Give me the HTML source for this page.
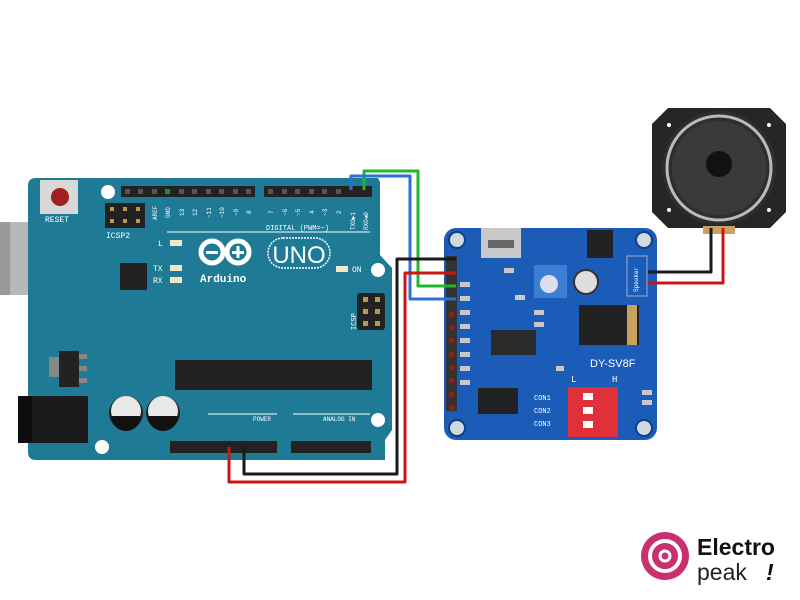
<!DOCTYPE html>
<html><head><meta charset="utf-8"><style>html,body{margin:0;padding:0;background:#fff}svg{display:block}</style></head>
<body>
<svg width="800" height="600" viewBox="0 0 800 600" xmlns="http://www.w3.org/2000/svg" font-family="Liberation Mono, monospace">
<rect width="800" height="600" fill="#fff"/>
<!-- USB -->
<rect x="0" y="222" width="78" height="73" fill="#b8b8b8"/>
<rect x="0" y="222" width="10" height="73" fill="#9a9a9a"/>
<rect x="28" y="218" width="8" height="82" fill="#a5a5a5"/>
<!-- Arduino board -->
<path d="M36 178 H378 L380 182 V255 L392 268 V430 L385 440 V460 H36 Q28 460 28 452 V186 Q28 178 36 178Z" fill="#1f7a96"/>
<rect x="18" y="396" width="70" height="47" fill="#1a1a1a"/>
<rect x="18" y="396" width="14" height="47" fill="#0d0d0d"/>
<!-- reset -->
<rect x="40" y="180" width="38" height="34" fill="#d8d8d8"/>
<circle cx="60" cy="197" r="9" fill="#a21f1f"/>
<text x="45" y="222" font-size="8" fill="#fff">RESET</text>
<!-- holes -->
<circle cx="108" cy="192" r="7" fill="#fff"/>
<circle cx="378" cy="270" r="7" fill="#fff"/>
<circle cx="378" cy="420" r="7" fill="#fff"/>
<circle cx="102" cy="447" r="7" fill="#fff"/>
<!-- ICSP2 -->
<rect x="105" y="203" width="40" height="25" fill="#222"/>
<g fill="#b89a4a"><rect x="110" y="207" width="4" height="4"/><rect x="123" y="207" width="4" height="4"/><rect x="136" y="207" width="4" height="4"/><rect x="110" y="219" width="4" height="4"/><rect x="123" y="219" width="4" height="4"/><rect x="136" y="219" width="4" height="4"/></g>
<text x="106" y="238" font-size="8" fill="#fff">ICSP2</text>
<!-- top headers -->
<rect x="121" y="186" width="134" height="11" fill="#222"/>
<rect x="264" y="186" width="108" height="11" fill="#222"/>
<g fill="#555">
<rect x="125" y="189" width="5" height="5"/><rect x="138" y="189" width="5" height="5"/><rect x="152" y="189" width="5" height="5"/><rect x="179" y="189" width="5" height="5"/><rect x="192" y="189" width="5" height="5"/><rect x="206" y="189" width="5" height="5"/><rect x="219" y="189" width="5" height="5"/><rect x="233" y="189" width="5" height="5"/><rect x="246" y="189" width="5" height="5"/>
<rect x="268" y="189" width="5" height="5"/><rect x="282" y="189" width="5" height="5"/><rect x="295" y="189" width="5" height="5"/><rect x="309" y="189" width="5" height="5"/><rect x="322" y="189" width="5" height="5"/><rect x="336" y="189" width="5" height="5"/></g>
<rect x="165" y="189" width="5" height="5" fill="#2a8a2a"/>
<g font-size="6" fill="#fff">
<text x="157" y="220" transform="rotate(-90 157 220)">AREF</text>
<text x="170" y="218" transform="rotate(-90 170 218)">GND</text>
<text x="184" y="216" transform="rotate(-90 184 216)">13</text>
<text x="197" y="216" transform="rotate(-90 197 216)">12</text>
<text x="211" y="218" transform="rotate(-90 211 218)">~11</text>
<text x="224" y="218" transform="rotate(-90 224 218)">~10</text>
<text x="238" y="216" transform="rotate(-90 238 216)">~9</text>
<text x="251" y="214" transform="rotate(-90 251 214)">8</text>
<text x="273" y="214" transform="rotate(-90 273 214)">7</text>
<text x="287" y="216" transform="rotate(-90 287 216)">~6</text>
<text x="300" y="216" transform="rotate(-90 300 216)">~5</text>
<text x="314" y="214" transform="rotate(-90 314 214)">4</text>
<text x="327" y="216" transform="rotate(-90 327 216)">~3</text>
<text x="341" y="214" transform="rotate(-90 341 214)">2</text>
<text x="355" y="230" transform="rotate(-90 355 230)">TXO▶1</text>
<text x="368" y="230" transform="rotate(-90 368 230)">RXO◀0</text>
<text x="266" y="230" font-size="7">DIGITAL (PWM=~)</text>
<text x="158" y="246" font-size="8">L</text>
<text x="153" y="271" font-size="8">TX</text>
<text x="153" y="283" font-size="8">RX</text>
<text x="352" y="272" font-size="8">ON</text>
<text x="253" y="421" font-size="6">POWER</text>
<text x="323" y="421" font-size="6">ANALOG IN</text>
</g>
<line x1="167" y1="232" x2="370" y2="232" stroke="#fff" stroke-width="1"/>
<line x1="208" y1="414" x2="277" y2="414" stroke="#fff" stroke-width="1"/>
<line x1="293" y1="414" x2="370" y2="414" stroke="#fff" stroke-width="1"/>
<rect x="170" y="240" width="12" height="6" fill="#f0e6c8"/>
<rect x="170" y="265" width="12" height="6" fill="#f0e6c8"/>
<rect x="170" y="277" width="12" height="6" fill="#f0e6c8"/>
<rect x="336" y="266" width="12" height="6" fill="#f0e6c8"/>
<!-- logo -->
<g fill="none" stroke="#fff" stroke-width="5"><circle cx="212" cy="252" r="11"/><circle cx="238" cy="252" r="11"/></g>
<rect x="206" y="251" width="12" height="3" fill="#fff"/><rect x="232" y="251" width="12" height="3" fill="#fff"/><rect x="236.5" y="246" width="3" height="12" fill="#fff"/>
<rect x="268" y="238" width="62" height="30" rx="15" fill="none" stroke="#fff" stroke-width="1.5" stroke-dasharray="2 1"/>
<text x="299" y="263" font-family="Liberation Sans, sans-serif" font-size="24" fill="#fff" text-anchor="middle">UNO</text>
<text x="200" y="282" font-size="11" fill="#fff" font-weight="bold">Arduino</text>
<!-- chips -->
<rect x="120" y="263" width="27" height="27" fill="#222"/>
<rect x="49" y="357" width="10" height="20" fill="#888"/>
<rect x="59" y="351" width="20" height="36" fill="#222"/>
<g fill="#888"><rect x="79" y="354" width="8" height="5"/><rect x="79" y="366" width="8" height="5"/><rect x="79" y="378" width="8" height="5"/></g>
<rect x="175" y="360" width="197" height="30" fill="#222"/>
<rect x="357" y="293" width="28" height="37" rx="3" fill="#222"/>
<g fill="#b89a4a"><rect x="363" y="297" width="5" height="5"/><rect x="375" y="297" width="5" height="5"/><rect x="363" y="309" width="5" height="5"/><rect x="375" y="309" width="5" height="5"/><rect x="363" y="321" width="5" height="5"/><rect x="375" y="321" width="5" height="5"/></g>
<text x="356" y="330" font-size="7" fill="#fff" transform="rotate(-90 356 330)">ICSP</text>
<!-- capacitors -->
<g><circle cx="126" cy="413" r="17" fill="#222"/><circle cx="126" cy="411" r="15" fill="#e8e8e8"/><path d="M111 416 A15 15 0 0 0 141 416Z" fill="#111"/></g>
<g><circle cx="163" cy="413" r="17" fill="#222"/><circle cx="163" cy="411" r="15" fill="#e8e8e8"/><path d="M148 416 A15 15 0 0 0 178 416Z" fill="#111"/></g>
<!-- bottom headers -->
<rect x="170" y="441" width="107" height="12" fill="#222"/>
<rect x="291" y="441" width="80" height="12" fill="#222"/>
<!-- module -->
<rect x="444" y="228" width="213" height="212" rx="12" fill="#1b5cb8"/>
<g fill="#d0d8e0" stroke="#0e3f80" stroke-width="2"><circle cx="457" cy="240" r="8"/><circle cx="644" cy="240" r="8"/><circle cx="457" cy="428" r="8"/><circle cx="644" cy="428" r="8"/></g>
<rect x="446" y="256" width="11" height="155" fill="#333"/>
<g fill="#a01818"><rect x="449" y="312" width="5" height="5"/><rect x="449" y="325" width="5" height="5"/><rect x="449" y="338" width="5" height="5"/><rect x="449" y="352" width="5" height="5"/><rect x="449" y="365" width="5" height="5"/><rect x="449" y="378" width="5" height="5"/><rect x="449" y="392" width="5" height="5"/><rect x="449" y="405" width="5" height="5"/></g>
<g fill="#c8c8c8"><rect x="460" y="282" width="10" height="5"/><rect x="460" y="296" width="10" height="5"/><rect x="460" y="310" width="10" height="5"/><rect x="460" y="324" width="10" height="5"/><rect x="460" y="338" width="10" height="5"/><rect x="460" y="352" width="10" height="5"/><rect x="460" y="366" width="10" height="5"/><rect x="460" y="380" width="10" height="5"/><rect x="504" y="268" width="10" height="5"/><rect x="515" y="295" width="10" height="5"/><rect x="534" y="310" width="10" height="5"/><rect x="534" y="322" width="10" height="5"/><rect x="556" y="366" width="8" height="5"/><rect x="642" y="390" width="10" height="5"/><rect x="642" y="400" width="10" height="5"/><rect x="595" y="232" width="8" height="4"/></g>
<rect x="481" y="228" width="40" height="30" fill="#c8c8c8"/><rect x="488" y="240" width="26" height="8" fill="#666"/>
<rect x="587" y="230" width="26" height="28" fill="#222"/>
<rect x="534" y="265" width="33" height="33" fill="#3b7fd4"/><circle cx="549" cy="284" r="9" fill="#dde"/>
<circle cx="586" cy="282" r="12" fill="#ddd" stroke="#333" stroke-width="2"/>
<rect x="579" y="305" width="60" height="40" fill="#222"/>
<rect x="627" y="305" width="10" height="40" fill="#c8a060"/>
<rect x="491" y="330" width="45" height="25" fill="#2a2a2a"/>
<rect x="478" y="388" width="40" height="26" fill="#222"/>
<text x="590" y="367" font-size="11" fill="#fff" font-family="Liberation Sans, sans-serif">DY-SV8F</text>
<text x="571" y="382" font-size="9" fill="#fff">L</text><text x="612" y="382" font-size="9" fill="#fff">H</text>
<rect x="568" y="387" width="50" height="50" fill="#e0303a"/>
<g fill="#fff"><rect x="583" y="393" width="10" height="7"/><rect x="583" y="407" width="10" height="7"/><rect x="583" y="421" width="10" height="7"/></g>
<g font-size="7" fill="#fff"><text x="534" y="400">CON1</text><text x="534" y="413">CON2</text><text x="534" y="426">CON3</text></g>
<rect x="627" y="256" width="20" height="40" fill="#1b5cb8" stroke="#aac" stroke-width="1"/>
<text x="638" y="292" font-size="6" fill="#fff" transform="rotate(-90 638 292)">Speaker</text>
<!-- speaker -->
<path d="M668 108 H770 L786 124 V212 L770 228 H668 L652 212 V124Z" fill="#262626"/>
<circle cx="719" cy="168" r="57" fill="#2e2e2e"/>
<circle cx="719" cy="168" r="52" fill="none" stroke="#bbb" stroke-width="3"/>
<circle cx="719" cy="168" r="47" fill="#3a3a3a"/>
<circle cx="719" cy="164" r="13" fill="#111"/>
<g fill="#fff"><circle cx="669" cy="125" r="2"/><circle cx="769" cy="125" r="2"/><circle cx="669" cy="210" r="2"/><circle cx="769" cy="210" r="2"/></g>
<rect x="703" y="226" width="32" height="8" fill="#c8a060"/>
<!-- wires -->
<g fill="none" stroke-width="3" stroke-linejoin="round">
<polyline points="364,190 364,171 418,171 418,286 456,286" stroke="#1fb82a"/>
<polyline points="351,190 351,176 410,176 410,299 456,299" stroke="#2d6fd6"/>
<polyline points="244,447 244,474 397,474 397,259 456,259" stroke="#1a1a1a"/>
<polyline points="229,447 229,482 405,482 405,273 456,273" stroke="#cc1414"/>
<polyline points="648,272 711,272 711,228" stroke="#1a1a1a"/>
<polyline points="648,283 723,283 723,228" stroke="#cc1414"/>
</g>
<!-- electropeak logo -->
<circle cx="665" cy="556" r="24" fill="#c9306f"/>
<circle cx="665" cy="556" r="15" fill="none" stroke="#fff" stroke-width="4"/>
<circle cx="665" cy="556" r="5" fill="#c9306f" stroke="#fff" stroke-width="3"/>
<text x="697" y="555" font-family="Liberation Sans, sans-serif" font-size="23" font-weight="bold" fill="#111">Electro</text>
<text x="697" y="580" font-family="Liberation Sans, sans-serif" font-size="23" fill="#222">peak</text>
<text x="766" y="580" font-family="Liberation Sans, sans-serif" font-size="23" font-weight="bold" font-style="italic" fill="#111">!</text>
</svg>
</body></html>
